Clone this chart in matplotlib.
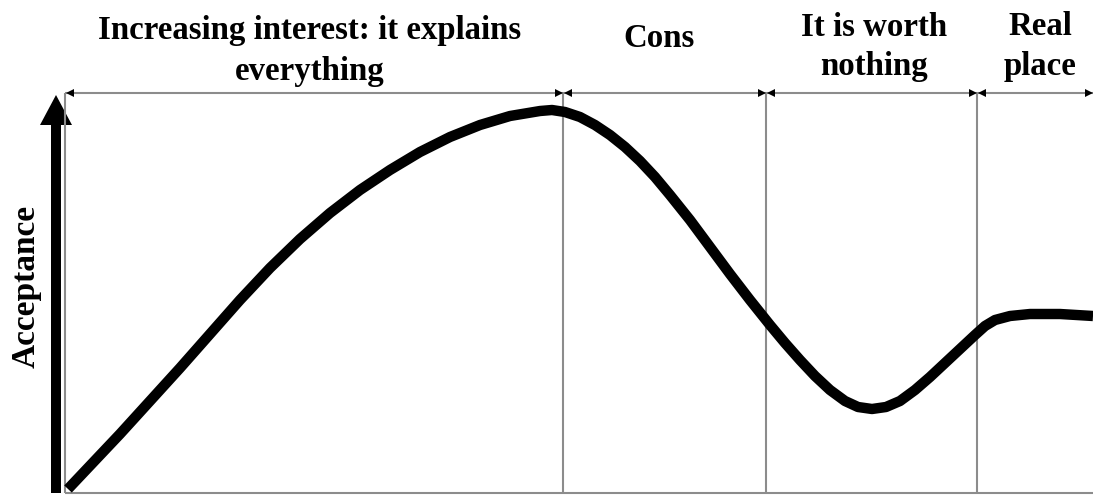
import matplotlib.pyplot as plt

plt.rcParams['font.family'] = ['Liberation Serif', 'DejaVu Serif']

# curve (x = time, y = acceptance)
curve_x = [3, 55, 115, 175, 205, 235, 265, 295, 325, 355, 385, 415, 445, 475, 487,
           500, 515, 530, 545, 560, 575, 590, 605, 625, 645, 665, 685, 705, 720,
           735, 750, 765, 780, 793, 807, 821, 835, 850, 865, 880, 895, 910, 920,
           930, 945, 965, 995, 1028]
curve_y = [4, 59, 125, 193, 225, 254, 280, 303, 323, 341, 356, 368, 377, 382, 383,
           381, 376, 368, 358, 346, 332, 316, 298, 273, 246, 219, 193, 168, 150,
           133, 117, 103, 92, 86, 84, 86, 92, 103, 116, 130, 144, 158, 167,
           173, 177, 179, 179, 177]

# phase boundaries and labels (one entry per text line)
bounds = [0, 498, 701, 912, 1028]
label_lines = ['Increasing interest: it explains', 'everything', 'Cons',
               'It is worth', 'nothing', 'Real', 'place']
label_x = [245, 245, 594, 809, 809, 975, 975]
label_y = [454, 413, 446, 457, 418, 458, 418]

top = 400
grey = '#8c8c8c'

fig = plt.figure(figsize=(10.93, 4.95), dpi=100)
ax = fig.add_axes([0, 0, 1, 1])
ax.set_xlim(-65, 1028)
ax.set_ylim(-2, 493)
ax.axis('off')

# frame lines
ax.hlines(0, 0, 1028, color=grey, lw=1.5)
ax.vlines(0, 0, top, color=grey, lw=1.5)
for b in bounds[1:-1]:
    ax.vlines(b, 0, top, color=grey, lw=1.5)

# top double arrows
ax.hlines(top, 0, 1028, color=grey, lw=1.5)
for a, b in zip(bounds[:-1], bounds[1:]):
    ax.plot([b - 4], [top], marker='>', color='black', ms=6, mew=0)
    ax.plot([a + 5], [top], marker='<', color='black', ms=6, mew=0)

# thick acceptance arrow
ax.arrow(-9, 0, 0, 398, width=10, head_width=32, head_length=30,
         length_includes_head=True, color='black', lw=0)
ax.text(-39, 207, 'Acceptance', rotation=90, ha='center', va='center',
        fontsize=24, fontweight='bold')

# main curve
ax.plot(curve_x, curve_y, color='black', lw=7.5, solid_joinstyle='round',
        solid_capstyle='butt')

for tx, ty, t in zip(label_x, label_y, label_lines):
    ax.text(tx, ty, t, ha='center', va='baseline', fontsize=23.7, fontweight='bold')

plt.savefig('out.png', dpi=100)
